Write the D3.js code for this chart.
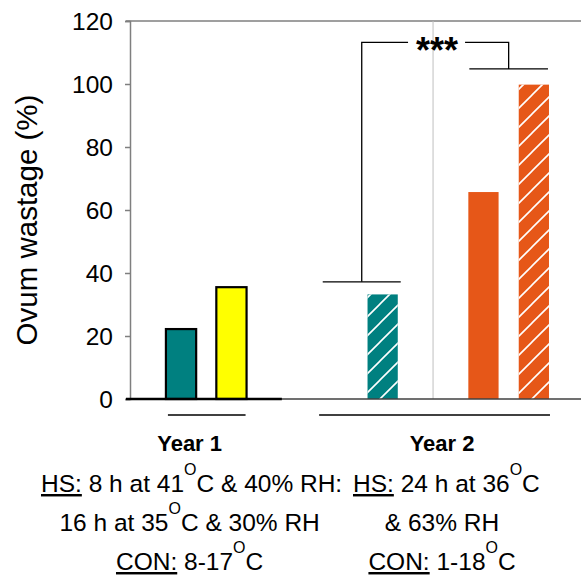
<!DOCTYPE html>
<html>
<head>
<meta charset="utf-8">
<script src="https://cdn.jsdelivr.net/npm/d3@7"></script>
<style>
  body { margin: 0; background: #fff; }
  svg text { font-family: "Liberation Sans", Arial, sans-serif; fill: #000; }
</style>
</head>
<body>
<svg id="svg"></svg>
<script>
// slots along the x axis (empty ones leave the gaps between the groups)
const slots = ["y1con", "y1hs", "gap1", "gap2", "y2con", "gap3", "y2hs1", "y2hs2"];
const barSlots = ["y1con", "y1hs", "y2con", "y2hs1", "y2hs2"];
const wastage = [22.2, 35.5, 33.2, 65.7, 99.8];
const yTicks = [0, 20, 40, 60, 80, 100, 120];
// significance bracket heights (same units as the y axis)
const bracketLevels = [37.2, 113.2, 104.8];

const width = 581;
const height = 576;

const barColor = { y1con: "#008080", y1hs: "#ffff00", y2con: "#008080", y2hs1: "#e65718", y2hs2: "#e65718" };
const hatched = { y2con: true, y2hs2: true };
const outlined = { y1con: true, y1hs: true };

const svg = d3.select("#svg").attr("width", width).attr("height", height);

const x = d3.scaleBand()
  .domain(slots)
  .range([150.8, 564.1])
  .paddingInner(0.4)
  .paddingOuter(0.3);

const y = d3.scaleLinear()
  .domain([0, 120])
  .range([399, 21]);

const bw = x.bandwidth();
const mid = (s) => x(s) + bw / 2;

// hatch pattern
const defs = svg.append("defs");
defs.append("pattern")
  .attr("id", "hatch")
  .attr("patternUnits", "userSpaceOnUse")
  .attr("width", 19)
  .attr("height", 19)
  .append("path")
  .attr("d", "M-2,2 L2,-2 M0,19 L19,0 M17,21 L21,17")
  .attr("stroke", "#fff")
  .attr("stroke-width", 1.6);

// frame: top line and light vertical divider
svg.append("line")
  .attr("x1", 126).attr("x2", width)
  .attr("y1", y(120)).attr("y2", y(120))
  .attr("stroke", "#7f7f7f").attr("stroke-width", 1.5);

svg.append("line")
  .attr("x1", mid("gap3")).attr("x2", mid("gap3"))
  .attr("y1", y(120)).attr("y2", y(0))
  .attr("stroke", "#bfbfbf").attr("stroke-width", 1);

// bars
const bars = svg.append("g");
barSlots.forEach((s, i) => {
  bars.append("rect")
    .attr("x", x(s))
    .attr("y", y(wastage[i]))
    .attr("width", bw)
    .attr("height", y(0) - y(wastage[i]))
    .attr("fill", barColor[s])
    .attr("stroke", outlined[s] ? "#000" : "none")
    .attr("stroke-width", 2.2);
  if (hatched[s]) {
    bars.append("rect")
      .attr("x", x(s))
      .attr("y", y(wastage[i]))
      .attr("width", bw)
      .attr("height", y(0) - y(wastage[i]))
      .attr("fill", "url(#hatch)");
  }
});

// y axis
const yAxis = svg.append("g")
  .attr("transform", "translate(130,0)")
  .call(d3.axisLeft(y).tickValues(yTicks).tickSize(5).tickPadding(12));
yAxis.select(".domain").attr("stroke", "#7f7f7f").attr("stroke-width", 1.5);
yAxis.selectAll(".tick line").attr("stroke", "#7f7f7f").attr("stroke-width", 1.5);
yAxis.selectAll(".tick text")
  .attr("font-size", 24.5)
  .attr("font-family", "'Liberation Sans', Arial, sans-serif")
  .attr("dy", "0.36em");

// x baseline
svg.append("line")
  .attr("x1", 126).attr("x2", width)
  .attr("y1", y(0)).attr("y2", y(0))
  .attr("stroke", "#404040").attr("stroke-width", 1.4);
svg.append("line")
  .attr("x1", 126).attr("x2", mid("gap1"))
  .attr("y1", y(0)).attr("y2", y(0))
  .attr("stroke", "#000").attr("stroke-width", 2.4);

// y label
svg.append("text")
  .attr("transform", "translate(37,220) rotate(-90)")
  .attr("text-anchor", "middle")
  .attr("font-size", 29.5)
  .text("Ovum wastage (%)");

// group lines under the axis
const groupLine = (x1, x2) => svg.append("line")
  .attr("x1", x1).attr("x2", x2)
  .attr("y1", 415).attr("y2", 415)
  .attr("stroke", "#000").attr("stroke-width", 1.4);
groupLine(x("y1con") + 2, x("y1hs") + bw - 1);
groupLine(x("gap2") + 2, x("y2hs2") + bw + 1);

// significance bracket
const bl = svg.append("g").attr("stroke", "#000").attr("stroke-width", 1.3).attr("fill", "none");
const leftFoot = mid("y2con") - x.step() * 0.415;
const rightFoot = (x("y2hs1") + x("y2hs2") + bw) / 2;
const starX = mid("gap3") + 4;
bl.append("path").attr("d", d3.line()([
  [leftFoot - 39, y(bracketLevels[0])], [leftFoot + 39, y(bracketLevels[0])]
]));
bl.append("path").attr("d", d3.line()([
  [leftFoot, y(bracketLevels[0])], [leftFoot, y(bracketLevels[1])], [starX - 29, y(bracketLevels[1])]
]));
bl.append("path").attr("d", d3.line()([
  [starX + 28, y(bracketLevels[1])], [rightFoot, y(bracketLevels[1])], [rightFoot, y(bracketLevels[2])]
]));
bl.append("path").attr("d", d3.line()([
  [x("y2hs1") + 1, y(bracketLevels[2])], [x("y2hs2") + bw - 1, y(bracketLevels[2])]
]));
svg.append("text")
  .attr("x", starX)
  .attr("y", 63)
  .attr("text-anchor", "middle")
  .attr("font-size", 36)
  .attr("font-weight", "bold")
  .text("***");

// condition text under the chart
const leftCol = mid("y1con") + x.step() * 0.17;
const rightCol = mid("gap3") + 9;

svg.append("text").attr("x", leftCol).attr("y", 451).attr("text-anchor", "middle")
  .attr("font-size", 22).attr("font-weight", "bold").text("Year 1");
svg.append("text").attr("x", rightCol).attr("y", 451).attr("text-anchor", "middle")
  .attr("font-size", 22).attr("font-weight", "bold").text("Year 2");

// parts: [text, kind] kind: u = underlined, s = superscript, b = back to baseline
function line(xPos, yPos, anchor, parts) {
  const t = svg.append("text")
    .attr("x", xPos).attr("y", yPos)
    .attr("text-anchor", anchor)
    .attr("font-size", 24.5)
    .attr("xml:space", "preserve");
  parts.forEach(([str, kind]) => {
    const sp = t.append("tspan").text(str);
    if (kind === "u") sp.attr("text-decoration", "underline");
    if (kind === "s") sp.attr("font-size", 16).attr("dy", -17);
    if (kind === "b") sp.attr("dy", 17);
  });
  return t;
}

line(41, 492, "start", [["HS:", "u"], [" 8 h at 41"], ["O", "s"], ["C", "b"], [" & 40% RH:"]]);
line(353, 492, "start", [["HS:", "u"], [" 24 h at 36"], ["O", "s"], ["C", "b"]]);
line(leftCol, 531, "middle", [["16 h at 35"], ["O", "s"], ["C", "b"], [" & 30% RH"]]);
line(rightCol, 531, "middle", [["& 63% RH"]]);
line(leftCol, 570, "middle", [["CON:", "u"], [" 8-17"], ["O", "s"], ["C", "b"]]);
line(rightCol, 570, "middle", [["CON:", "u"], [" 1-18"], ["O", "s"], ["C", "b"]]);
</script>
</body>
</html>
